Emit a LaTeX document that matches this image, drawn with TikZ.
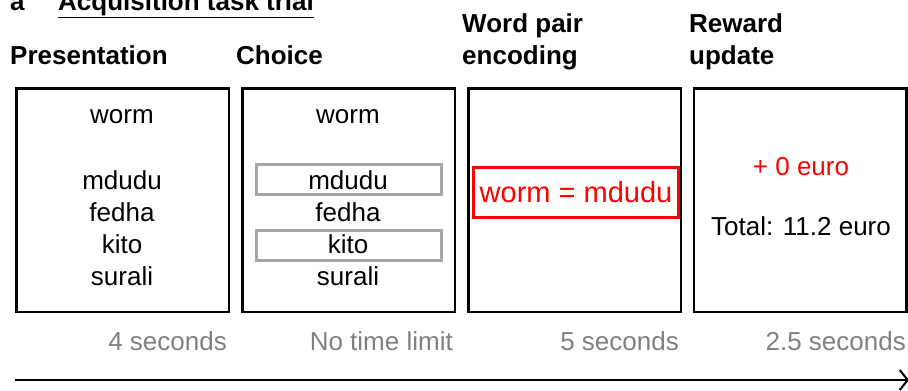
\documentclass[tikz,border=0pt]{standalone}
\usepackage{fontspec}
\setmainfont{Liberation Sans}
\usetikzlibrary{arrows.meta,positioning}
\definecolor{timegray}{HTML}{808080}
\definecolor{choicegray}{HTML}{A6A6A6}
\definecolor{rewardred}{HTML}{FF0000}

\begin{document}
\begin{tikzpicture}[x=1pt,y=-1pt,
		panel/.style={draw, line width=2.5pt, minimum width=212.5pt, minimum height=223.5pt, inner sep=0pt},
		word/.style={anchor=base, inner sep=0pt, font=\fontsize{26}{32}\selectfont},
		header/.style={anchor=base west, align=left, inner sep=0pt, font=\fontsize{26}{32}\selectfont\bfseries},
		timing/.style={anchor=base east, inner sep=0pt, text=timegray, font=\fontsize{26}{32}\selectfont},
		option/.style={draw=choicegray, line width=3pt, minimum width=185pt, minimum height=30pt, inner sep=0pt},
		pairbox/.style={draw=rewardred, line width=3pt, text=rewardred, minimum width=205pt, minimum height=50pt, inner sep=0pt, font=\fontsize{29}{34}\selectfont}
		]
	
		\clip (0,0) rectangle (908,391);
	
		% --- Titre et en-têtes ---
		\node[header] (lab) at (10,10) {a};
		\node[header] (title) at (58,10) {\underline{Acquisition task trial}};
		\node[header] (h1) at (10,64) {Presentation};
		\node[header] (h2) at (236,64) {Choice};
		\node[header] (h3) at (462,64) {Word pair\\encoding};
		\node[header] (h4) at (689,64) {Reward\\update};
	
		% --- Panneaux ---
		\node[panel] (pres) at (122.5,200) {};
		\node[panel] (choice) at (348.5,200) {};
		\node[panel] (encode) at (574.5,200) {};
		\node[panel] (reward) at (800,200) {};
	
		% Présentation
		\node[word] (p0) at (122,123) {worm};
		\node[word] (p1) at (122,189) {mdudu};
		\node[word] (p2) at (122,221) {fedha};
		\node[word] (p3) at (122,253) {kito};
		\node[word] (p4) at (122,285) {surali};
	
		% Choix
		\node[option] (o1) at (349,179.5) {};
		\node[option] (o2) at (349,245) {};
		\node[word] (c0) at (348,123) {worm};
		\node[word] (c1) at (348,189) {mdudu};
		\node[word] (c2) at (348,221) {fedha};
		\node[word] (c3) at (348,253) {kito};
		\node[word] (c4) at (348,285) {surali};
	
		% Encodage
		\node[pairbox] (pair) at (576,192.5) {worm = mdudu};
	
		% Récompense
		\node[word, text=rewardred] (gain) at (801,175) {+ 0 euro};
		\node[word] (total) at (801,235) {Total: 11.2 euro};
	
		% --- Durées ---
		\node[timing] (d1) at (227,350) {4 seconds};
		\node[timing] (d2) at (453,350) {No time limit};
		\node[timing] (d3) at (679,350) {5 seconds};
		\node[timing] (d4) at (906,350) {2.5 seconds};
	
		% Axe du temps
		\coordinate (t0) at (15,380);
		\coordinate (t1) at (909,380);
		\draw[line width=2pt, -{Straight Barb[length=8pt, width=20pt, line width=2pt]}] (t0) -- (t1);
	
	\end{tikzpicture}
\end{document}
